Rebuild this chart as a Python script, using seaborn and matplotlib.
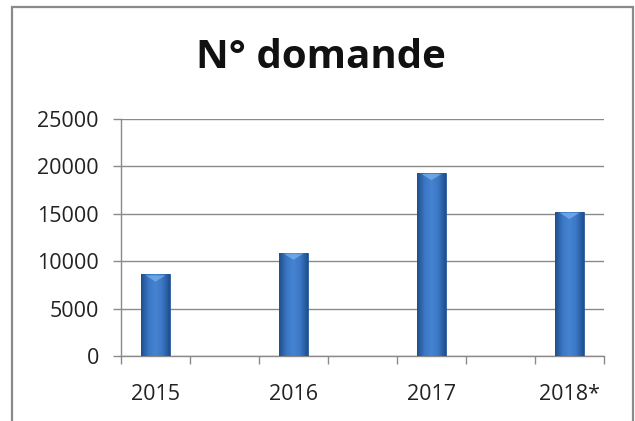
import numpy as np
import pandas as pd
import seaborn as sns
import matplotlib.pyplot as plt
from matplotlib.patches import Rectangle
from matplotlib.ticker import FixedLocator

# Values (Excel layout: an empty category between years)
categories = ["2015", "", "2016", "", "2017", "", "2018*"]
domande = [8600, np.nan, 10900, np.nan, 19300, np.nan, 15200]
yticks = [0, 5000, 10000, 15000, 20000, 25000]

df = pd.DataFrame({"anno": categories, "domande": domande})
df["pos"] = [f"c{i}" for i in range(len(categories))]

sns.set_style("white")
plt.rcParams["font.family"] = ["Open Sans", "DejaVu Sans"]

fig = plt.figure(figsize=(6.35, 4.21), dpi=100)
ax = fig.add_axes([121 / 635, 1 - 356 / 421, (604 - 121) / 635, (356 - 119) / 421])

sns.barplot(data=df, x="pos", y="domande", color="#3b73c0", width=0.41,
            saturation=1, ax=ax, zorder=3)

# cylinder-like shading on each bar
grad = np.linspace(0, 1, 64)
cmap = plt.matplotlib.colors.LinearSegmentedColormap.from_list(
    "bar", ["#1f4f8c", "#3a76c4", "#4584d2", "#3a76c4", "#1f4f8c"])
for p in ax.patches:
    if not np.isfinite(p.get_height()) or p.get_height() == 0:
        continue
    x0, w, h = p.get_x(), p.get_width(), p.get_height()
    im = ax.imshow(grad[None, :], cmap=cmap, aspect="auto",
                   extent=[x0, x0 + w, 0, h], zorder=4)
    im.set_clip_path(p)
    tip = h - 25000 * 0.03
    ax.fill([x0 + w * 0.15, x0 + w * 0.85, x0 + w * 0.5],
            [h - 25000 * 0.004, h - 25000 * 0.004, tip],
            color="#7db4ee", alpha=0.7, lw=0, zorder=5)
    p.set_edgecolor("#2a5a9a")
    p.set_linewidth(0.6)

ax.set_ylim(0, 25000)
ax.set_xlim(-0.5, len(categories) - 0.5)
ax.set_yticks(yticks)
ax.set_yticklabels([str(v) for v in yticks])
ax.set_xticks(range(len(categories)))
ax.set_xticklabels(categories)
ax.xaxis.set_minor_locator(FixedLocator(np.arange(-0.5, len(categories), 1.0)))

ax.grid(axis="y", color="#8a8a8a", lw=1.0, zorder=0)
ax.set_axisbelow(True)
for s in ["top", "right"]:
    ax.spines[s].set_visible(False)
for s in ["left", "bottom"]:
    ax.spines[s].set_color("#8a8a8a")
    ax.spines[s].set_linewidth(1.0)

ax.tick_params(axis="y", length=6, width=1, color="#8a8a8a", pad=10,
               labelsize=15.5, labelcolor="#222222", left=True)
ax.tick_params(axis="x", which="major", length=0, pad=20,
               labelsize=15.5, labelcolor="#222222")
ax.tick_params(axis="x", which="minor", length=6, width=1, color="#8a8a8a",
               bottom=True)
ax.set_xlabel("")
ax.set_ylabel("")

fig.text(0.505, 1 - 58 / 421, "N° domande", ha="center", va="center",
         fontsize=29, fontweight="bold", color="#111111")

# chart area border
fig.patches.append(Rectangle((12 / 635, -0.05), (633 - 12) / 635, 1.05 - 7 / 421,
                             transform=fig.transFigure, fill=False,
                             edgecolor="#8a8a8a", lw=1.6))

fig.savefig("out.png", dpi=100)
